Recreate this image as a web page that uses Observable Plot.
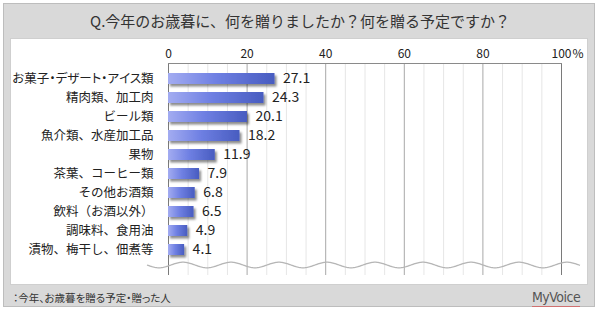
<!DOCTYPE html>
<html><head><meta charset="utf-8">
<script src="https://cdn.jsdelivr.net/npm/d3@7"></script>
<script src="https://cdn.jsdelivr.net/npm/@observablehq/plot@0.6"></script>
<style>
html,body{margin:0;padding:0;background:#fff;}
#wrap{position:relative;width:600px;height:312px;font-family:"Noto Sans CJK JP","Noto Sans",sans-serif;}
#frame{position:absolute;left:3px;top:3px;width:592px;height:304px;background:#d9d9d9;border:1px solid #bdbdbd;box-sizing:border-box;}
#panel{position:absolute;left:10px;top:38px;width:578px;height:247px;background:#fff;border:1px solid #cfcfcf;box-sizing:border-box;}
#title{position:absolute;left:0;top:10px;width:600px;text-align:center;font-size:15px;color:#333;line-height:22px;}
#foot{position:absolute;left:13px;top:290px;font-size:10.5px;color:#333;line-height:16px;font-feature-settings:"palt";}
#logo{position:absolute;left:532px;top:288px;font-family:"Liberation Sans Narrow","DejaVu Sans Condensed",sans-serif;font-size:14px;color:#555;letter-spacing:-0.5px;line-height:18px;border-bottom:1px solid #d07070;}
#chart{position:absolute;left:0;top:38px;}
svg text.cat{font-feature-settings:"palt";}
</style></head>
<body><div id="wrap">
<div id="frame"></div>
<div id="panel"></div>
<div id="title">Q.今年のお歳暮に、何を贈りましたか？何を贈る予定ですか？</div>
<div id="chart"></div>
<div id="foot">：今年、お歳暮を贈る予定・贈った人</div>
<div id="logo">MyVoice</div>
</div>
<script>
const categories = ["お菓子・デザート・アイス類","精肉類、加工肉","ビール類","魚介類、水産加工品","果物","茶葉、コーヒー類","その他お酒類","飲料（お酒以外）","調味料、食用油","漬物、梅干し、佃煮等"];
const values = [27.1, 24.3, 20.1, 18.2, 11.9, 7.9, 6.8, 6.5, 4.9, 4.1];
const majorTicks = [0, 20, 40, 60, 80, 100];
const minorTicks = [5,10,15,25,30,35,45,50,55,65,70,75,85,90,95];
const unit = "%";

const data = categories.map((c, i) => ({category: c, value: values[i]}));

const plot = Plot.plot({
  width: 600, height: 247,
  marginLeft: 168, marginRight: 39, marginTop: 25, marginBottom: 10,
  style: {fontFamily: '"Noto Sans CJK JP","Noto Sans",sans-serif', fontSize: "12.5px", color: "#222", background: "transparent", overflow: "visible"},
  x: {domain: [0, 100], axis: null},
  y: {domain: categories, axis: null, paddingInner: 0.43, paddingOuter: 0.43, insetBottom: 11},
  marks: [
    Plot.ruleX(minorTicks, {stroke: "#e6e6e6", strokeWidth: 1}),
    Plot.ruleX(majorTicks.slice(1, -1), {stroke: "#a8a8a8", strokeWidth: 1}),
    Plot.ruleX([majorTicks[0], majorTicks[majorTicks.length - 1]], {stroke: "#7a7a7a", strokeWidth: 1}),
    Plot.frame({anchor: "top", stroke: "#8a8a8a"}),
    Plot.axisX({anchor: "top", ticks: majorTicks, tickSize: 0, tickPadding: 6, fontSize: 12, label: null, tickFormat: d => String(d)}),
    Plot.text([majorTicks[majorTicks.length - 1]], {x: d => d, frameAnchor: "top", lineAnchor: "bottom", dy: -6, dx: 11, text: () => unit, textAnchor: "start", fontSize: 12, fill: "#222"}),
    Plot.axisY({anchor: "left", tickSize: 0, tickPadding: 15, fontSize: 12.5, label: null}),
    Plot.barX(data, {x: "value", y: "category", fill: "url(#barGrad)"}),
    Plot.text(data, {x: "value", y: "category", text: d => d.value.toFixed(1), textAnchor: "start", dx: 8, fontSize: 14, fill: "#222"})
  ]
});
document.getElementById("chart").appendChild(plot);

const svg = d3.select(plot);
const defs = svg.insert("defs", ":first-child");
const g = defs.append("linearGradient").attr("id", "barGrad").attr("x1", "0").attr("x2", "1").attr("y1", "0").attr("y2", "0");
g.append("stop").attr("offset", "0%").attr("stop-color", "#a3acf1");
g.append("stop").attr("offset", "45%").attr("stop-color", "#6f80e3");
g.append("stop").attr("offset", "100%").attr("stop-color", "#485cc0");
const f = defs.append("filter").attr("id", "shadow").attr("x", "-10%").attr("y", "-30%").attr("width", "130%").attr("height", "190%");
f.append("feDropShadow").attr("dx", 2).attr("dy", 2.5).attr("stdDeviation", 1.2).attr("flood-color", "#000").attr("flood-opacity", 0.45);
svg.selectAll('g[aria-label="bar"]').attr("filter", "url(#shadow)");
svg.selectAll('g[aria-label="y-axis tick label"] text').filter(function() { return this.textContent.includes("・"); }).classed("cat", true);

// decorative break wave near bottom of frame
const xs = plot.scale("x").range;
const ys = plot.scale("y").range;
const x0 = xs[0] - 21, x1 = xs[1] + 19, yc = Math.max(...ys) + 1;
const pts = d3.range(x0, x1 + 0.5, 1).map(px => [px, yc + 2.8 * Math.sin((px - x0) / 48 * 2 * Math.PI)]);
svg.append("path").attr("d", d3.line()(pts)).attr("fill", "none").attr("stroke", "#b5b5b5").attr("stroke-width", 1.3);
</script>
</body></html>
